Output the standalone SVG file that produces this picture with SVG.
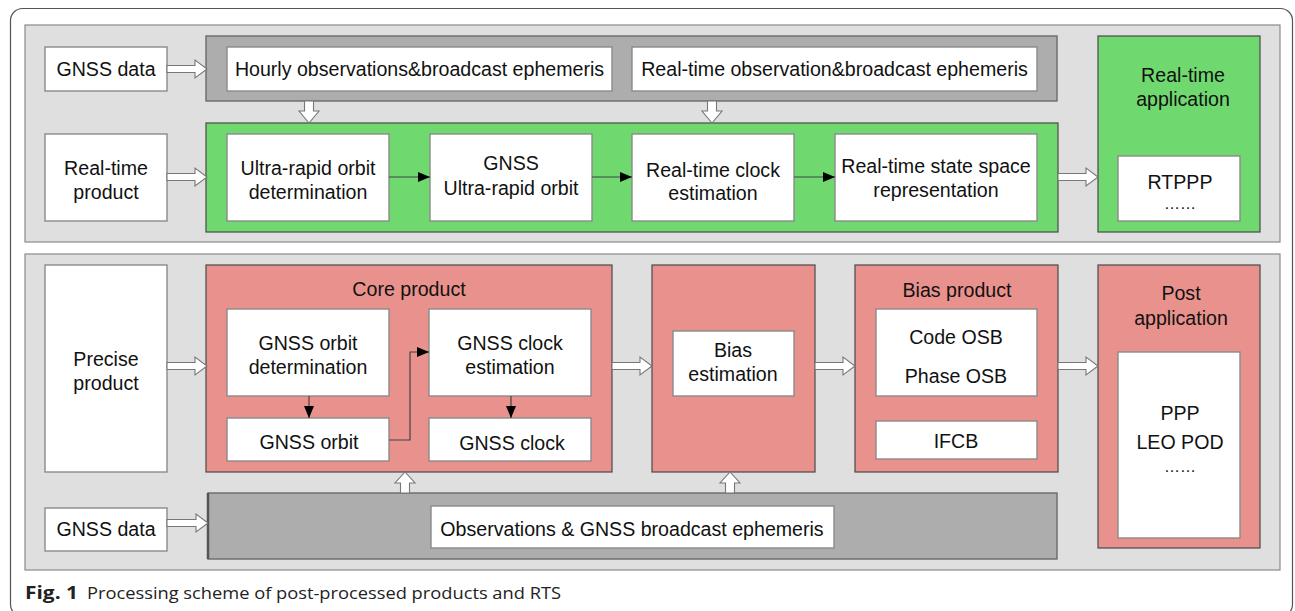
<svg xmlns="http://www.w3.org/2000/svg" width="1295" height="611" viewBox="0 0 1295 611">
<defs>
<style>
text{font-family:"Liberation Sans",Arial,sans-serif;font-size:19.6px;fill:#111;text-anchor:middle}
.dots{font-size:16px}
.panel{fill:#dfdfdf;stroke:#8a8a8a;stroke-width:1.2}
.gbar{fill:#adadad;stroke:#6a6a6a;stroke-width:1.4}
.green{fill:#6fd96f;stroke:#4a4a4a;stroke-width:1.2}
.pink{fill:#e9918c;stroke:#4a4a4a;stroke-width:1.2}
.wb{fill:#fff;stroke:#8a8a8a;stroke-width:1.4}
.hol{fill:#fff;stroke:#777;stroke-width:1.1}
.ln{fill:none;stroke:#444;stroke-width:1.2}
.cap{font-family:"Open Sans","Noto Sans",sans-serif;font-size:17px;text-anchor:start;fill:#222}
</style>
<marker id="ah" viewBox="0 0 12 10" refX="12" refY="5" markerWidth="12" markerHeight="10" markerUnits="userSpaceOnUse" orient="auto">
<path d="M0,0 L12,5 L0,10 Z" fill="#000"/>
</marker>
</defs>
<rect x="10.5" y="8.5" width="1282" height="608" rx="12" fill="#fff" stroke="#555" stroke-width="1.2"/>
<g id="panel-top"><rect class="panel" x="25" y="25" width="1255" height="217"/></g>
<g id="panel-bottom"><rect class="panel" x="25" y="254" width="1255" height="316"/></g>

<g id="rt-obs-bar"><rect class="gbar" x="206" y="36" width="851" height="65"/></g>
<g id="rt-green"><rect class="green" x="206" y="123" width="852" height="109"/></g>
<g id="post-obs-bar"><rect class="gbar" x="208" y="493" width="849" height="66"/><line x1="208" y1="493" x2="208" y2="559" stroke="#555" stroke-width="2.5"/></g>

<g id="gnss-data-top"><rect class="wb" x="45" y="47" width="122" height="44"/><text x="106" y="76">GNSS data</text></g>
<g id="hourly"><rect class="wb" x="227" y="47" width="385" height="44"/><text x="419.5" y="76">Hourly observations&amp;broadcast ephemeris</text></g>
<g id="rt-obs"><rect class="wb" x="632" y="47" width="405" height="44"/><text x="834.5" y="76">Real-time observation&amp;broadcast ephemeris</text></g>

<g id="rt-product"><rect class="wb" x="45" y="134" width="122" height="87"/><text x="106" y="175">Real-time</text><text x="106" y="199">product</text></g>
<g id="ultra-det"><rect class="wb" x="227" y="134" width="162" height="87"/><text x="308" y="175">Ultra-rapid orbit</text><text x="308" y="199">determination</text></g>
<g id="ultra-orbit"><rect class="wb" x="430" y="134" width="162" height="87"/><text x="511" y="170">GNSS</text><text x="511" y="195">Ultra-rapid orbit</text></g>
<g id="rt-clock"><rect class="wb" x="632" y="134" width="162" height="87"/><text x="713" y="177">Real-time clock</text><text x="713" y="200">estimation</text></g>
<g id="rt-ssr"><rect class="wb" x="835" y="134" width="202" height="87"/><text x="936" y="173">Real-time state space</text><text x="936" y="197">representation</text></g>

<g id="rt-app"><rect class="green" x="1098" y="36" width="162" height="196"/><text x="1183" y="82">Real-time</text><text x="1183" y="106">application</text>
<rect class="wb" x="1118" y="156" width="122" height="65"/><text x="1180" y="189">RTPPP</text><text class="dots" x="1180" y="209">……</text></g>

<g id="precise-product"><rect class="wb" x="45" y="265" width="122" height="207"/><text x="106" y="366">Precise</text><text x="106" y="390">product</text></g>
<g id="core-product"><rect class="pink" x="206" y="265" width="406" height="207"/><text x="409" y="296">Core product</text></g>
<g id="orbit-det"><rect class="wb" x="227" y="309" width="162" height="87"/><text x="308" y="350">GNSS orbit</text><text x="308" y="374">determination</text></g>
<g id="gnss-orbit"><rect class="wb" x="227" y="418" width="162" height="43"/><text x="309" y="449">GNSS orbit</text></g>
<g id="clock-est"><rect class="wb" x="429" y="309" width="162" height="87"/><text x="510" y="350">GNSS clock</text><text x="510" y="374">estimation</text></g>
<g id="gnss-clock"><rect class="wb" x="429" y="418" width="162" height="43"/><text x="512" y="450">GNSS clock</text></g>

<g id="bias-est"><rect class="pink" x="652" y="265" width="163" height="207"/><rect class="wb" x="673" y="331" width="121" height="65"/><text x="733" y="357">Bias</text><text x="733" y="381">estimation</text></g>
<g id="bias-product"><rect class="pink" x="855" y="265" width="203" height="207"/><text x="957" y="297">Bias product</text>
<rect class="wb" x="876" y="309" width="161" height="87"/><text x="956" y="344">Code OSB</text><text x="956" y="383">Phase OSB</text>
<rect class="wb" x="876" y="421" width="161" height="38"/><text x="956" y="448">IFCB</text></g>
<g id="post-app"><rect class="pink" x="1098" y="265" width="162" height="283"/><text x="1181" y="300">Post</text><text x="1181" y="325">application</text>
<rect class="wb" x="1118" y="352" width="122" height="186"/><text x="1180" y="420">PPP</text><text x="1180" y="449">LEO POD</text><text class="dots" x="1180" y="472">……</text></g>

<g id="gnss-data-bottom"><rect class="wb" x="45" y="508" width="122" height="43"/><text x="106" y="536">GNSS data</text></g>
<g id="obs-eph"><rect class="wb" x="431" y="506" width="403" height="42"/><text x="632" y="536">Observations &amp; GNSS broadcast ephemeris</text></g>

<g id="connectors">
<path class="hol" d="M167,65.5 H195 V60 L207,69 L195,78 V72.5 H167 Z"/>
<path class="hol" d="M167,173.5 H195 V168 L207,177 L195,186 V180.5 H167 Z"/>
<path class="hol" d="M1058,173.5 H1086 V168 L1098,177 L1086,186 V180.5 H1058 Z"/>
<path class="hol" d="M167,362.5 H195 V357 L207,366 L195,375 V369.5 H167 Z"/>
<path class="hol" d="M612,362.5 H640 V357 L652,366 L640,375 V369.5 H612 Z"/>
<path class="hol" d="M815,362.5 H843 V357 L855,366 L843,375 V369.5 H815 Z"/>
<path class="hol" d="M1058,362.5 H1086 V357 L1098,366 L1086,375 V369.5 H1058 Z"/>
<path class="hol" d="M167,519.5 H196 V514 L208,523 L196,532 V526.5 H167 Z"/>
<path class="hol" d="M304.5,101 V111 H299 L309,123 L319,111 H313.5 V101 Z"/>
<path class="hol" d="M707.5,101 V111 H702 L712,123 L722,111 H716.5 V101 Z"/>
<path class="hol" d="M400.5,493 V483 H395 L405,472 L415,483 H409.5 V493 Z"/>
<path class="hol" d="M725.5,493 V483 H720 L730,472 L740,483 H734.5 V493 Z"/>
<line class="ln" x1="389" y1="177" x2="430" y2="177" marker-end="url(#ah)"/>
<line class="ln" x1="592" y1="177" x2="632" y2="177" marker-end="url(#ah)"/>
<line class="ln" x1="794" y1="177" x2="835" y2="177" marker-end="url(#ah)"/>
<line class="ln" x1="309" y1="396" x2="309" y2="418" marker-end="url(#ah)"/>
<line class="ln" x1="511" y1="396" x2="511" y2="418" marker-end="url(#ah)"/>
<polyline class="ln" points="389,440 410,440 410,352 429,352" marker-end="url(#ah)"/>
</g>

<g id="caption"><text class="cap" x="25" y="599" textLength="53" lengthAdjust="spacingAndGlyphs" style="font-weight:bold;font-size:18px">Fig. 1</text><text class="cap" x="87" y="599" textLength="474" lengthAdjust="spacingAndGlyphs">Processing scheme of post-processed products and RTS</text></g>
</svg>
